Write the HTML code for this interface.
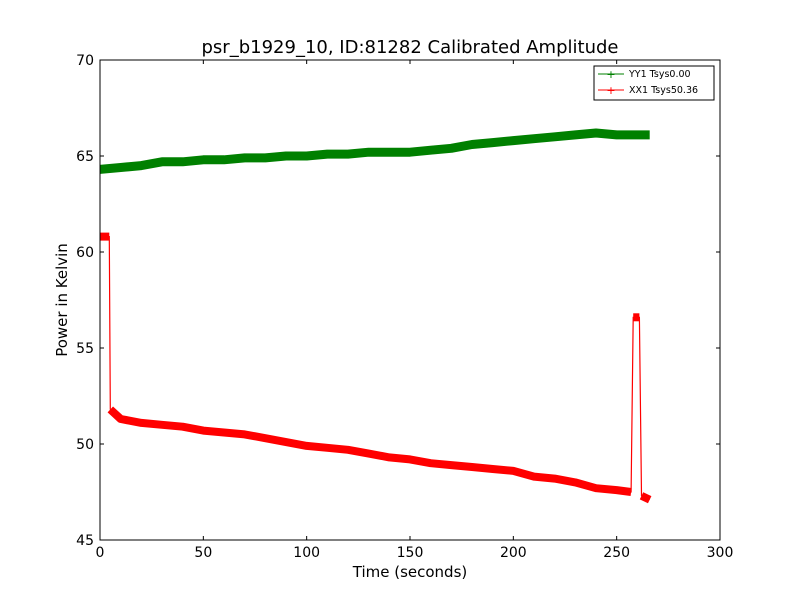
<!DOCTYPE html>
<html><head><meta charset="utf-8"><style>
body{margin:0;background:#fff;font-family:"Liberation Sans",sans-serif}
svg text{font-family:"DejaVu Sans","Liberation Sans",sans-serif}
</style></head><body>
<svg id="chart" width="800" height="600">
<rect x="0" y="0" width="800" height="600" fill="#fff"/>
<text x="410" y="53" font-size="18" text-anchor="middle">psr_b1929_10, ID:81282 Calibrated Amplitude</text>
<g id="plot"></g>
<g id="axes"></g>
<rect x="100" y="60" width="620" height="480" fill="none" stroke="#000" stroke-width="1"/>
<text x="410" y="577" font-size="15" text-anchor="middle">Time (seconds)</text>
<text transform="translate(67,300) rotate(-90)" font-size="15" text-anchor="middle">Power in Kelvin</text>
<g>
<rect x="594" y="66" width="120" height="34" fill="#fff" stroke="#000" stroke-width="1"/>
<line x1="598" y1="74" x2="624" y2="74" stroke="#008000"/><text x="611" y="78" font-size="11" fill="#008000" text-anchor="middle">+</text>
<text x="629" y="77" font-size="9.5">YY1 Tsys0.00</text>
<line x1="598" y1="90" x2="624" y2="90" stroke="#ff0000"/><text x="611" y="94" font-size="11" fill="#ff0000" text-anchor="middle">+</text>
<text x="629" y="93" font-size="9.5">XX1 Tsys50.36</text>
</g>
</svg>
<script>
const greenT=[0,10,20,30,40,50,60,70,80,90,100,110,120,130,140,150,160,170,180,190,200,210,220,230,240,250,260,266];
const greenV=[64.3,64.4,64.5,64.7,64.7,64.8,64.8,64.9,64.9,65.0,65.0,65.1,65.1,65.2,65.2,65.2,65.3,65.4,65.6,65.7,65.8,65.9,66.0,66.1,66.2,66.1,66.1,66.1];
const redT=[0,4.5,5,10,20,30,40,50,60,70,80,90,100,110,120,130,140,150,160,170,180,190,200,210,220,230,240,250,257,258,261,262,266];
const redV=[60.8,60.8,51.8,51.3,51.1,51.0,50.9,50.7,50.6,50.5,50.3,50.1,49.9,49.8,49.7,49.5,49.3,49.2,49.0,48.9,48.8,48.7,48.6,48.3,48.2,48.0,47.7,47.6,47.5,56.6,56.6,47.3,47.1];
const redSeg=[0,0,1,1,1,1,1,1,1,1,1,1,1,1,1,1,1,1,1,1,1,1,1,1,1,1,1,1,1,2,2,3,3];
const xTicks=[0,50,100,150,200,250,300];
const yTicks=[45,50,55,60,65,70];
const NS="http://www.w3.org/2000/svg";
const X=t=>100+t*620/300, Y=v=>540-(v-45)*480/25;
const plot=document.getElementById('plot'), axes=document.getElementById('axes');
function mk(tag,attrs,parent){const e=document.createElementNS(NS,tag);for(const k in attrs)e.setAttribute(k,attrs[k]);parent.appendChild(e);return e;}
function pts(T,V){return T.map((t,i)=>X(t).toFixed(1)+','+Y(V[i]).toFixed(1)).join(' ');}
let g=mk('polyline',{points:pts(greenT,greenV),fill:'none',stroke:'#008000','stroke-width':9,'stroke-linejoin':'round'},plot);


let r=mk('polyline',{points:pts(redT,redV),fill:'none',stroke:'#ff0000','stroke-width':1.2},plot);


const segs=[...new Set(redSeg)];
segs.forEach(s=>{const T=[],V=[];redSeg.forEach((q,i)=>{if(q===s){T.push(redT[i]);V.push(redV[i]);}});
 const p=mk('polyline',{points:pts(T,V),fill:'none',stroke:'#ff0000','stroke-width':8,'stroke-linejoin':'round'},plot);
 
 });
xTicks.forEach(t=>{const x=X(t);
 mk('line',{x1:x,y1:540,x2:x,y2:536,stroke:'#000'},axes);mk('line',{x1:x,y1:60,x2:x,y2:64,stroke:'#000'},axes);
 const tx=mk('text',{x:x,y:557,'font-size':14,'text-anchor':'middle'},axes);tx.textContent=t;
 
 });
yTicks.forEach(v=>{const y=Y(v);
 mk('line',{x1:100,y1:y,x2:104,y2:y,stroke:'#000'},axes);mk('line',{x1:720,y1:y,x2:716,y2:y,stroke:'#000'},axes);
 const tx=mk('text',{x:94,y:y+5,'font-size':14,'text-anchor':'end'},axes);tx.textContent=v;
 
 });
</script>
</body></html>
